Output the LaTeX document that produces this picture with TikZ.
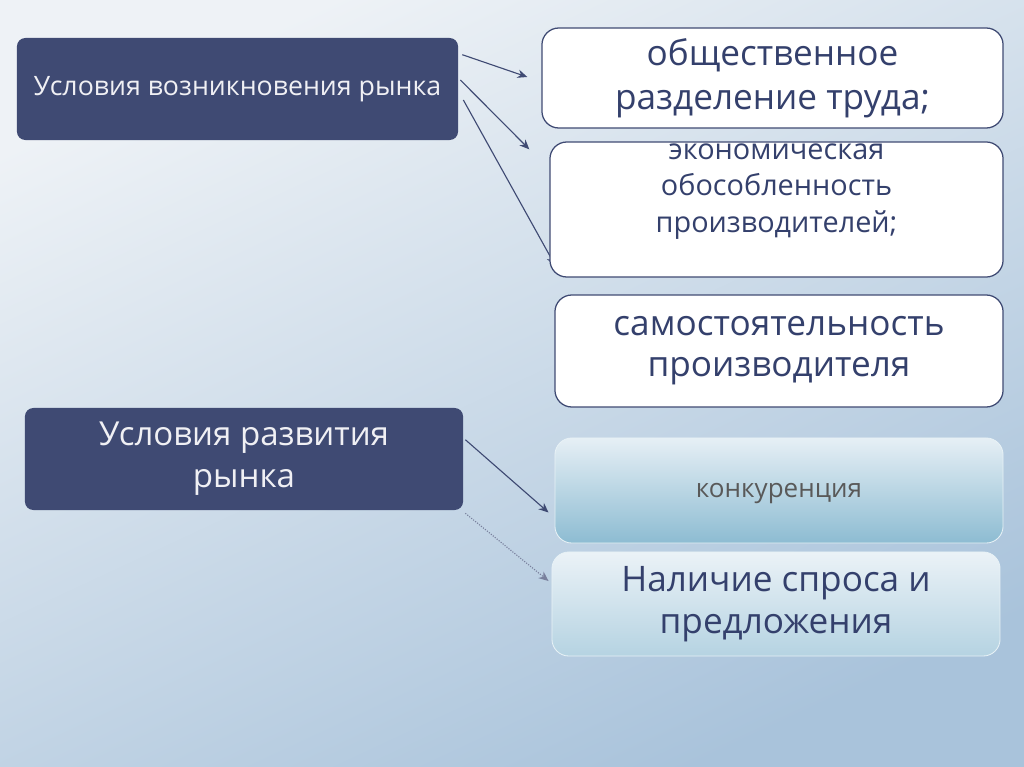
\documentclass[tikz,border=0pt]{standalone}
\usepackage{fontspec}
\setmainfont{Open Sans}
\usetikzlibrary{arrows.meta}
\definecolor{navy}{HTML}{3F4A73}
\definecolor{inknavy}{HTML}{34406C}
\definecolor{bgtop}{HTML}{EEF2F6}
\definecolor{bgbot}{HTML}{A9C3DB}
\definecolor{tealtop}{HTML}{E6EFF5}
\definecolor{tealbot}{HTML}{8DBCD2}
\pgfdeclarelayer{bg}
\pgfdeclarelayer{links}
\pgfsetlayers{bg,links,main}
\tikzstyle{headbox} = [rectangle, rounded corners=6pt,
minimum width=11cm,
minimum height=2.55cm,
fill=navy,
text=white!92!navy,
align=center]
\tikzstyle{plainbox} = [rectangle, rounded corners=12pt,
draw=navy,
line width=0.9pt,
fill=white,
text=inknavy,
align=center]
\tikzstyle{shadebox} = [rectangle, rounded corners=12pt,
draw=white!80!tealbot,
line width=0.6pt,
align=center]
\tikzstyle{arrow} = [navy, line width=0.8pt, -{Stealth[length=7pt, width=6pt]}]
\begin{document}
\begin{tikzpicture}[x=0.025cm, y=-0.025cm]

\begin{pgfonlayer}{bg}
\shade[top color=bgtop, bottom color=bgbot, shading angle=25] (0,0) rectangle (1024,767);
\end{pgfonlayer}

\node (origin) [headbox, minimum width=11.025cm, font=\fontsize{19}{24}\selectfont] at (237.5,89) {Условия возникновения рынка};
\node (growth) [headbox, minimum width=10.95cm, font=\fontsize{23.5}{30}\selectfont] at (244,459) {Условия развития\\рынка};

\node (div) [plainbox, minimum width=11.525cm, minimum height=2.5cm, font=\fontsize{25}{31}\selectfont] at (772.5,78) {общественное\\разделение труда;};
\node (isol) [plainbox, minimum width=11.325cm, minimum height=3.375cm,
label={[align=center, text=inknavy, font=\fontsize{20.5}{26}\selectfont, yshift=0.45cm]center:{экономическая\\обособленность\\производителей;}}] at (776.5,209.5) {};
\node (indep) [plainbox, minimum width=11.2cm, minimum height=2.8cm, font=\fontsize{25}{29}\selectfont] at (779,351) {самостоятельность\\производителя};
\node (compet) [shadebox, top color=tealtop, bottom color=tealbot, minimum width=11.2cm, minimum height=2.625cm,
text=black!65, font=\fontsize{18.5}{20}\selectfont, text depth=-0.3cm] at (779,490.5) {конкуренция};
\node (demand) [shadebox, top color=tealtop!80!white, bottom color=tealbot!55!tealtop, minimum width=11.2cm, minimum height=2.6cm,
text=inknavy, font=\fontsize{25}{30}\selectfont] at (776,604) {Наличие спроса и\\предложения};

\begin{pgfonlayer}{links}
\draw [arrow] ([shift={(4,17)}]origin.north east) -- ([shift={(-14,-1)}]div.west);
\draw [arrow] ([shift={(2,-9)}]origin.east) -- ([shift={(-20,8)}]isol.north west);
\draw [arrow] ([shift={(5,11)}]origin.east) -- ([shift={(6,-12)}]isol.south west);
\draw [arrow] ([shift={(2,32)}]growth.north east) -- ([shift={(-6,22)}]compet.west);
\draw [arrow, densely dotted, navy!70] ([shift={(2,3)}]growth.south east) -- ([shift={(-3,-23)}]demand.west);
\end{pgfonlayer}

\end{tikzpicture}
\end{document}
